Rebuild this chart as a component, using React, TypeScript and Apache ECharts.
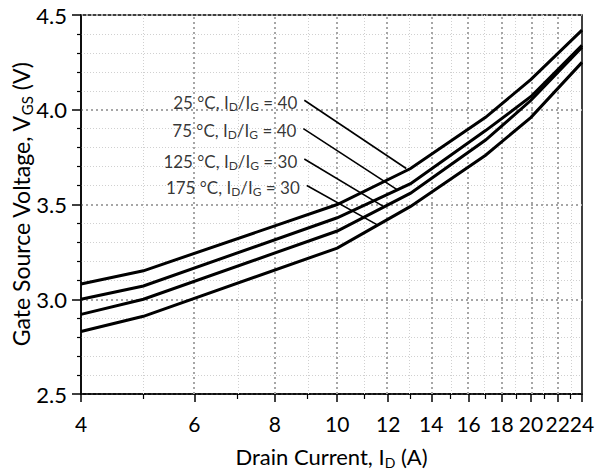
import React, { useEffect, useRef } from 'react';
import * as echarts from 'echarts';

// Drain current sample points (A) and gate-source voltage per curve (V)
const currents = [4, 5, 10, 13, 17, 20, 24];
const vgs25C = [3.08, 3.15, 3.5, 3.69, 3.96, 4.16, 4.42];
const vgs75C = [3.0, 3.07, 3.43, 3.61, 3.89, 4.07, 4.34];
const vgs125C = [2.92, 3.0, 3.36, 3.56, 3.84, 4.05, 4.33];
const vgs175C = [2.83, 2.91, 3.27, 3.49, 3.76, 3.96, 4.25];

const temps = ['25', '75', '125', '175'];
const ratios = ['40', '40', '30', '30'];

// leader lines (label anchor -> point on curve), data units
const leaderStartI = [8.89, 8.86, 8.89, 8.97];
const leaderStartV = [4.05, 3.9, 3.74, 3.6];
const leaderEndI = [12.8, 12.37, 11.79, 11.58];
const leaderEndV = [3.69, 3.58, 3.49, 3.39];

const xMajorTicks = [4, 6, 8, 10, 12, 14, 16, 18, 20, 22, 24];
const xMinorTicks = [5, 7, 9, 11, 13, 15, 17, 19, 21, 23];
const xGridMajor = [6, 8, 10, 12, 14, 16, 18, 20, 22];
const xGridMinor = [5, 7, 9, 11, 13, 15, 17, 19, 21, 23];

const yMin = 2.5;
const yMax = 4.5;
const yStep = 0.5;

const ln = Math.log;
const FONT = 'Lato';

export default function App() {
  const ref = useRef<HTMLDivElement>(null);

  useEffect(() => {
    const chart = echarts.init(ref.current!, null, { renderer: 'svg' });
    const curves = [vgs25C, vgs75C, vgs125C, vgs175C];

    const curveSeries = curves.map((vals, i) => ({
      type: 'line',
      name: temps[i] + ' °C',
      data: currents.map((c, j) => [ln(c), vals[j]]),
      symbol: 'none',
      silent: true,
      z: 5,
      lineStyle: { color: '#000', width: 3, join: 'miter' },
    }));

    const majorGridStyle = { color: '#a6a6a6', width: 2, type: [2, 3] };
    const minorGridStyle = { color: '#d0d0d0', width: 1, type: [1, 2] };

    const gridSeries = {
      type: 'line',
      data: [],
      silent: true,
      z: 1,
      markLine: {
        silent: true,
        symbol: ['none', 'none'],
        label: { show: false },
        animation: false,
        data: [
          ...xGridMinor.map((v) => ({ xAxis: ln(v), lineStyle: minorGridStyle })),
          ...xGridMajor.map((v) => ({ xAxis: ln(v), lineStyle: majorGridStyle })),
        ],
      },
    };

    const subRich = {
      n: { fontFamily: FONT, fontSize: 17, lineHeight: 22, color: '#000' },
      s: { fontFamily: FONT, fontSize: 12, lineHeight: 12, verticalAlign: 'bottom', color: '#000', padding: [0, 0, 1, 0] },
    };

    const annotationSeries = {
      type: 'scatter',
      silent: true,
      z: 6,
      symbolSize: 0,
      data: temps.map((t, i) => ({
        value: [ln(leaderStartI[i]), leaderStartV[i]],
        label: {
          show: true,
          position: 'left',
          distance: 7,
          offset: [0, 2],
          formatter: `{n|${t} °C, I}{s|D}{n|/I}{s|G}{n| = ${ratios[i]}}`,
          rich: subRich,
        },
      })),
      markLine: {
        silent: true,
        symbol: ['none', 'none'],
        label: { show: false },
        lineStyle: { color: '#000', width: 1.6, type: 'solid' },
        data: temps.map((_, i) => [
          { coord: [ln(leaderStartI[i]), leaderStartV[i]] },
          { coord: [ln(leaderEndI[i]), leaderEndV[i]] },
        ]),
      },
    };

    const xNameRich = {
      n: { fontFamily: FONT, fontSize: 22, color: '#000', lineHeight: 26 },
      s: { fontFamily: FONT, fontSize: 14, color: '#000', lineHeight: 14, verticalAlign: 'bottom' },
    };
    const yNameRich = {
      n: { fontFamily: FONT, fontSize: 23, color: '#000', lineHeight: 27 },
      s: { fontFamily: FONT, fontSize: 15, color: '#000', lineHeight: 15, verticalAlign: 'bottom' },
    };

    chart.setOption({
      animation: false,
      backgroundColor: '#fff',
      textStyle: { fontFamily: FONT },
      grid: {
        left: 81,
        top: 15,
        right: 13,
        bottom: 79,
        show: true,
        borderColor: '#000',
        borderWidth: 1.5,
        containLabel: false,
        outerBoundsMode: 'none',
      },
      xAxis: [
        {
          type: 'value',
          min: ln(4),
          max: ln(24),
          name: '{n|Drain Current, I}{s|D}{n| (A)}',
          nameLocation: 'middle',
          nameGap: 49,
          nameMoveOverlap: false,
          nameTextStyle: { rich: xNameRich },
          axisLine: { show: true, lineStyle: { color: '#000', width: 1.5 } },
          axisTick: {
            show: true,
            length: 8,
            customValues: xMajorTicks.map((v) => ln(v)),
            lineStyle: { color: '#000', width: 1.5 },
          },
          axisLabel: {
            show: true,
            margin: 19,
            customValues: xMajorTicks.map((v) => ln(v)),
            formatter: (v: number) => String(Math.round(Math.exp(v))),
            fontFamily: FONT,
            fontSize: 21,
            color: '#000',
            hideOverlap: false,
            showMinLabel: true,
            showMaxLabel: true,
          },
          splitLine: { show: false },
        },
        {
          type: 'value',
          min: ln(4),
          max: ln(24),
          position: 'top',
          offset: -379,
          axisLine: { show: false },
          axisTick: {
            show: true,
            inside: true,
            length: 5,
            customValues: xMinorTicks.map((v) => ln(v)),
            lineStyle: { color: '#000', width: 1.2 },
          },
          axisLabel: { show: false },
          splitLine: { show: false },
        },
      ],
      yAxis: {
        type: 'value',
        min: yMin,
        max: yMax,
        interval: yStep,
        name: '{n|Gate Source Voltage, V}{s|GS}{n| (V)}',
        nameLocation: 'middle',
        nameGap: 47,
        nameMoveOverlap: false,
        nameTextStyle: { rich: yNameRich },
        axisLine: { show: true, lineStyle: { color: '#000', width: 1.5 } },
        axisTick: { show: true, length: 9, lineStyle: { color: '#000', width: 1.5 } },
        minorTick: { show: true, splitNumber: 5, length: 4, lineStyle: { color: '#000', width: 1.2 } },
        axisLabel: {
          margin: 14,
          formatter: (v: number) => v.toFixed(1),
          fontFamily: FONT,
          fontSize: 22,
          color: '#000',
          showMinLabel: true,
          showMaxLabel: true,
        },
        splitLine: { show: true, lineStyle: majorGridStyle },
        minorSplitLine: { show: true, lineStyle: minorGridStyle },
      },
      series: [gridSeries, ...curveSeries, annotationSeries],
    });

    return () => chart.dispose();
  }, []);

  return (
    <div
      ref={ref}
      style={{ position: 'fixed', left: 0, top: 0, width: 595, height: 473, background: '#fff' }}
    />
  );
}
